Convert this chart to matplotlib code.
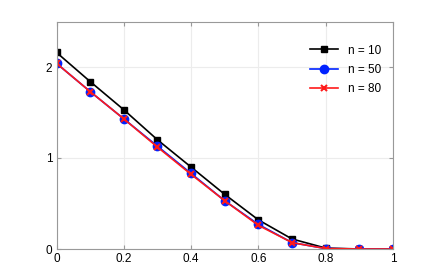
import matplotlib
matplotlib.use("Agg")
import matplotlib.pyplot as plt

plt.rcParams['font.family'] = ['Liberation Sans', 'DejaVu Sans']

x = [0, 0.1, 0.2, 0.3, 0.4, 0.5, 0.6, 0.7, 0.8, 0.9, 1.0]
n10 = [2.16, 1.84, 1.53, 1.20, 0.90, 0.60, 0.32, 0.11, 0.01, 0.0, 0.0]
n50 = [2.04, 1.73, 1.43, 1.13, 0.83, 0.53, 0.27, 0.07, 0.005, 0.0, 0.0]
n80 = [2.04, 1.73, 1.43, 1.12, 0.82, 0.53, 0.26, 0.07, 0.005, 0.0, 0.0]
labels = ['n = 10', 'n = 50', 'n = 80']

fig = plt.figure(figsize=(4.36, 2.80), dpi=100)
ax = fig.add_axes([56.5/436, 1-249/280, (393-56.5)/436, (249-21.5)/280])

ax.plot(x, n10, color='black', marker='s', markersize=5, lw=1.2, label=labels[0])
ax.plot(x, n50, color='#0022ff', marker='o', markersize=6, lw=1.2, label=labels[1])
ax.plot(x, n80, color='#ff1a1a', marker='x', markersize=5, mew=1.5, lw=1.2, label=labels[2])

ax.set_xlim(0, 1)
ax.set_ylim(0, 2.5)
ax.set_xticks([0, 0.2, 0.4, 0.6, 0.8, 1])
ax.set_xticklabels(['0', '0.2', '0.4', '0.6', '0.8', '1'])
ax.set_yticks([0, 1, 2])
ax.grid(True, color='#ececec', lw=0.8)
ax.set_axisbelow(True)
for s in ax.spines.values():
    s.set_color('#999999')
    s.set_linewidth(0.8)
ax.tick_params(direction='in', length=3, color='#999999', labelsize=8.5, top=True, right=True, pad=3)
leg = ax.legend(loc='upper right', frameon=False, fontsize=8.5, bbox_to_anchor=(0.985, 0.93),
                handlelength=2.4, borderaxespad=0.2, labelspacing=0.62)

fig.savefig('out.png', dpi=100)
